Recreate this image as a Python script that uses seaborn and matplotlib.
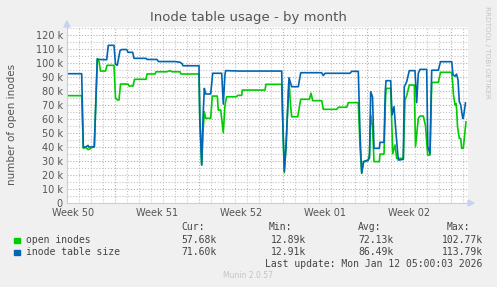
import numpy as np
import pandas as pd
import matplotlib
matplotlib.use("Agg")
import matplotlib.pyplot as plt
import seaborn as sns

# ---------------- data (x in days since the start of the graph, values in thousands) -------------
series_names = ["open inodes", "inode table size"]
series_colors = ["#00CC00", "#0066B3"]

# x positions in pixels then expressed in days (12 px per day)
blue_px = [67, 81.7, 83.3, 86, 88, 89, 94.3, 97.3, 99, 106.7, 108.3, 114, 115.5, 117.3, 120, 121.7,
           126.7, 128, 132.7, 134, 146, 147, 157, 158.5, 175, 180, 182, 183, 199, 199.8, 201.7, 203,
           204.3, 205.7, 210.7, 212.7, 221.7, 223.3, 225, 225.7, 240, 281.7, 282.7, 284.3, 286, 289,
           291.7, 298.3, 300.7, 321.7, 323.3, 325, 350, 351.7, 358.3, 360, 361.7, 363.5, 368, 369.5,
           370.7, 372.5, 374, 379.3, 380, 384, 385.3, 386, 390.7, 392, 394, 396, 398.3, 403.3, 404.3,
           406.7, 409.3, 415, 416.7, 418.3, 420, 426.7, 427.8, 430, 431.7, 438.3, 440.5, 451.7, 453,
           455, 456.5, 458, 459.3, 460.7, 462.7, 463.3, 465.5]
blue_val = [92.3, 92.3, 39.6, 40.0, 41.0, 39.8, 40.0, 102.8, 102.5, 102.3, 112.6, 112.6, 99.0, 98.3,
            108.8, 109.6, 109.6, 107.6, 107.6, 103.3, 103.3, 102.5, 102.5, 101.0, 101.0, 100.5, 99.5,
            98.0, 98.0, 60.0, 27.0, 60.0, 81.8, 77.8, 77.8, 92.6, 92.6, 70.6, 92.0, 94.5, 94.2, 94.2,
            60.0, 22.5, 40.0, 89.4, 83.0, 83.0, 93.0, 93.0, 91.0, 92.6, 92.6, 94.0, 94.0, 50.0, 21.0,
            29.5, 30.5, 32.0, 79.4, 75.8, 38.9, 38.9, 43.2, 43.2, 80.0, 87.3, 87.3, 62.8, 68.7, 50.0,
            30.5, 31.0, 83.0, 86.6, 94.5, 94.5, 71.6, 92.6, 95.4, 95.4, 40.0, 35.3, 94.8, 94.8, 100.9,
            100.9, 91.5, 90.5, 92.0, 88.0, 72.3, 70.0, 60.4, 60.4, 71.6]

green_px = [67, 81.7, 83.3, 86, 88, 90, 92, 94.3, 97.3, 99, 100.5, 105.5, 107, 114, 115.5, 117.3, 119,
            120.5, 128, 129, 133, 134.5, 146, 147, 155, 156, 167, 170, 172, 180, 181, 199, 199.8, 201.7,
            203, 204.3, 205.7, 210.7, 212.3, 217.3, 218.3, 220.7, 223.3, 225, 226.7, 236.7, 237.5,
            241.7, 242.3, 265, 266, 281.7, 282.7, 284.3, 286, 289, 290.5, 291.7, 297.7, 300.7, 309.3,
            311, 312.7, 321.7, 323.3, 336.7, 338.3, 346.7, 348.3, 358.3, 360, 361.7, 363.5, 368, 369.5,
            370.7, 372.5, 374, 379.3, 380, 384, 385.3, 386, 390.7, 392.7, 395, 396.7, 403.3, 405, 406.7,
            409.3, 414.3, 415.5, 418.3, 420, 423.3, 425.5, 427.7, 430, 431.7, 438.3, 440.5, 451.7, 452.7,
            453.5, 455, 456, 456.7, 457.5, 459.3, 460.7, 461.7, 463.3, 466]
green_val = [76.6, 76.6, 39.0, 39.5, 38.0, 38.5, 39.5, 40.0, 103.0, 101.0, 94.2, 94.2, 98.3, 98.3,
             75.0, 73.5, 73.5, 84.9, 84.9, 83.5, 83.5, 88.3, 88.3, 92.1, 92.1, 93.7, 93.7, 94.5, 93.7,
             93.7, 92.1, 92.1, 60.0, 27.0, 50.0, 65.1, 60.4, 60.4, 76.3, 76.3, 66.3, 66.3, 50.1, 70.0,
             75.8, 75.8, 76.8, 76.8, 80.6, 80.6, 84.7, 84.7, 60.0, 21.5, 40.0, 87.8, 70.0, 61.5, 61.5,
             74.0, 74.0, 78.3, 73.0, 73.0, 66.8, 66.8, 68.3, 68.3, 71.6, 71.6, 40.0, 21.5, 29.0, 30.1,
             35.0, 62.8, 55.0, 29.4, 29.4, 34.8, 34.8, 70.0, 81.8, 81.8, 35.0, 41.3, 31.7, 31.7, 73.5,
             76.6, 84.2, 84.2, 40.1, 60.4, 62.0, 62.0, 55.0, 34.1, 34.1, 86.1, 86.1, 93.3, 93.3, 85.4,
             77.0, 70.0, 71.0, 66.3, 54.4, 46.0, 46.0, 38.9, 38.9, 58.0]

week_labels = ["Week 50", "Week 51", "Week 52", "Week 01", "Week 02"]
week_label_days = [0.5, 7.5, 14.5, 21.5, 28.5]
week_line_days = [4, 11, 18, 25, 32]

stat_headers = ["Cur:", "Min:", "Avg:", "Max:"]
stat_open = ["57.68k", "12.89k", "72.13k", "102.77k"]
stat_size = ["71.60k", "12.91k", "86.49k", "113.79k"]
last_update = "Last update: Mon Jan 12 05:00:03 2026"

# ---------------- build frame ----------------
PX0, PXD = 67.0, 12.0
def to_day(p):
    return (np.asarray(p, dtype=float) - PX0) / PXD

df = pd.concat([
    pd.DataFrame({"day": to_day(green_px), "value": np.asarray(green_val) * 1000, "series": series_names[0]}),
    pd.DataFrame({"day": to_day(blue_px), "value": np.asarray(blue_val) * 1000, "series": series_names[1]}),
], ignore_index=True)

# ---------------- figure ----------------
sns.set_theme(style="white")
plt.rcParams["font.family"] = ["DejaVu Sans"]
W, H = 497, 287
fig = plt.figure(figsize=(W / 100, H / 100), dpi=100, facecolor="#F0F0F0")

def fx(x):
    return x / W
def fy(y):
    return 1 - y / H

ax_left, ax_right = 67, 468
y0_px, k_per_px = 202.7, 1.3975
ymax_k = 126.0
ax_top = y0_px - ymax_k * k_per_px
ax = fig.add_axes([fx(ax_left), fy(y0_px), (ax_right - ax_left) / W, (y0_px - ax_top) / H])
ax.set_facecolor("white")

xmax = (ax_right - ax_left) / PXD
ax.set_xlim(0, xmax)
ax.set_ylim(0, ymax_k * 1000)

# grid
minor_col = "#C4C4C4"
major_col = "#E29C9C"
dots = (0, (1, 1.6))
for d in np.arange(1, xmax, 1.0):
    if int(round(d)) in week_line_days:
        continue
    ax.axvline(d, color=minor_col, lw=0.8, ls=dots, zorder=0)
for d in week_line_days:
    ax.axvline(d, color=major_col, lw=0.8, ls=dots, zorder=0)
for v in np.arange(5000, 126000, 10000):
    ax.axhline(v, color=minor_col, lw=0.8, ls=dots, zorder=0)
for v in np.arange(10000, 126000, 10000):
    ax.axhline(v, color=major_col, lw=0.8, ls=dots, zorder=0)

sns.lineplot(data=df, x="day", y="value", hue="series", hue_order=series_names,
             palette=series_colors, lw=1.2, legend=False, ax=ax, sort=False, estimator=None)

yt = np.arange(0, 121000, 10000)
ax.set_yticks(yt)
ax.set_yticklabels(["0"] + [f"{int(v/1000)} k" for v in yt[1:]])
ax.set_xticks(week_label_days)
ax.set_xticklabels(week_labels)
ax.tick_params(axis="both", labelsize=7, colors="#555555", length=0, pad=3)
ax.tick_params(axis="x", pad=4)
ax.set_xlabel("")
ax.set_ylabel("")

for s in ["top", "right"]:
    ax.spines[s].set_visible(False)
ax.spines["left"].set_color("#C8CCE8")
ax.spines["bottom"].set_color("#C8CCE8")
ax.spines["left"].set_linewidth(0.8)
ax.spines["bottom"].set_linewidth(0.8)

# axis arrows
fig.patches.append(plt.Polygon([[fx(64), fy(27)], [fx(70), fy(27)], [fx(67), fy(21)]],
                               closed=True, color="#C8D0F4", transform=fig.transFigure))
fig.patches.append(plt.Polygon([[fx(468), fy(200)], [fx(468), fy(206)], [fx(474), fy(203)]],
                               closed=True, color="#C8D0F4", transform=fig.transFigure))

# texts
fig.text(fx(248), fy(18), "Inode table usage - by month", ha="center", va="center",
         fontsize=9.5, color="#555555")
fig.text(fx(12), fy(124), "number of open inodes", rotation=90, ha="center", va="center",
         fontsize=7.5, color="#555555")
fig.text(fx(487), fy(6), "RRDTOOL / TOBI OETIKER", rotation=270, ha="center", va="top",
         fontsize=5.2, color="#C4C4C4")

mono = "DejaVu Sans Mono"
tc = "#444444"
col_right = [216.7, 306, 394, 482.7]
for x, h in zip([181.7, 269, 358, 446.7], stat_headers):
    fig.text(fx(x), fy(227.5), h, ha="left", va="center", fontsize=7, family=mono, color=tc)
for row_y, name, vals, col in [(240, series_names[0], stat_open, series_colors[0]),
                               (252, series_names[1], stat_size, series_colors[1])]:
    fig.patches.append(plt.Rectangle((fx(14), fy(row_y + 3)), 5.5 / W, 5.5 / H,
                                     color=col, transform=fig.transFigure))
    fig.text(fx(26), fy(row_y), name, ha="left", va="center", fontsize=7, family=mono, color=tc)
    for xr, v in zip(col_right, vals):
        fig.text(fx(xr), fy(row_y), v, ha="right", va="center", fontsize=7, family=mono, color=tc)
fig.text(fx(482.7), fy(264), last_update, ha="right", va="center", fontsize=7, family=mono, color=tc)
fig.text(fx(248), fy(276), "Munin 2.0.57", ha="center", va="center", fontsize=5.5, color="#C4C4C4")

fig.savefig("out.png", dpi=100, facecolor=fig.get_facecolor())
